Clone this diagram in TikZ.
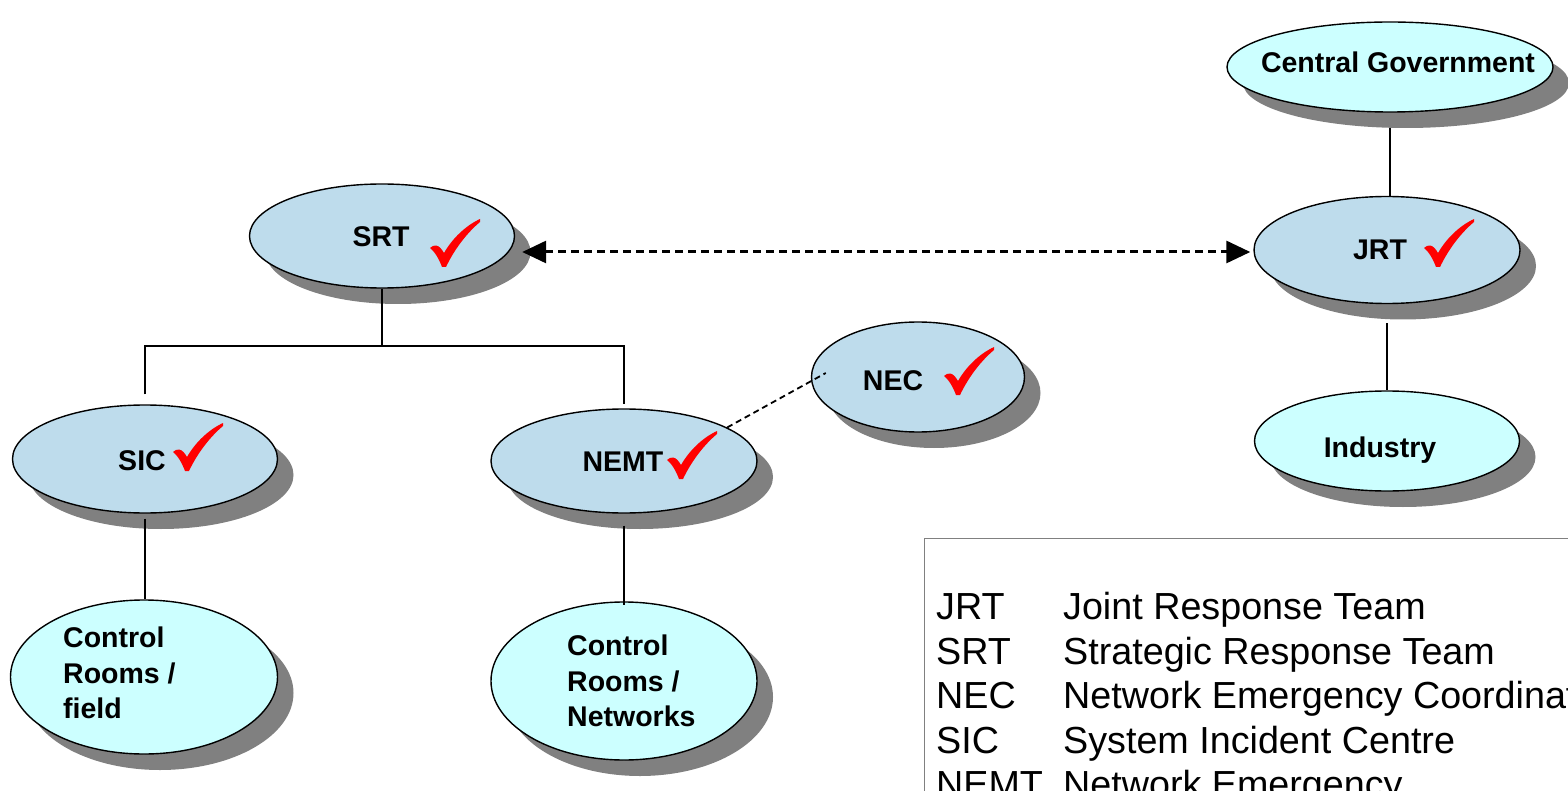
\documentclass[tikz,border=0pt]{standalone}
\usepackage{fontspec}
\setmainfont{Liberation Sans}
\usetikzlibrary{shapes.geometric,shadows,arrows.meta}
\definecolor{nodeblue}{RGB}{190,220,236}
\definecolor{nodecyan}{RGB}{204,255,255}
\definecolor{shadowgray}{RGB}{128,128,128}
\definecolor{legendgray}{RGB}{128,128,128}
\tikzset{
  chk/.pic={\fill[red] (0,29) .. controls (4,25) and (9,25) .. (14,34)
     .. controls (22,20) and (35,7) .. (50,0) -- (50,3)
     .. controls (38,13) and (25,29) .. (16,48) -- (12,48)
     .. controls (9,40) and (5,33) .. (0,29) -- cycle;}
}
\begin{document}
\begin{tikzpicture}[x=1pt,y=-1pt,
  ell/.style={ellipse, draw=black, line width=1.4pt, inner sep=0pt,
    drop shadow={shadow xshift=16pt, shadow yshift=-16pt, fill=shadowgray, opacity=1}},
  blueell/.style={ell, fill=nodeblue},
  cyanell/.style={ell, fill=nodecyan},
  lbl/.style={font=\fontsize{28.5}{35.5}\selectfont\bfseries, inner sep=0pt},
  legtxt/.style={font=\fontsize{37.7}{44.5}\selectfont, inner sep=0pt, anchor=base west},
  conn/.style={line width=1.4pt, black},
  dasharrow/.style={line width=3pt, dash pattern=on 8pt off 5pt,
    {Triangle[length=24pt,width=22pt]}-{Triangle[length=24pt,width=22pt]}},
  thindash/.style={line width=1.8pt, dash pattern=on 6pt off 4pt}
]
\useasboundingbox (0,0) rectangle (1568,791);
\clip (0,0) rectangle (1568,791);
\fill[white] (0,0) rectangle (1568,791);

% ellipses
\node[cyanell, minimum width=326pt, minimum height=90pt] (CG) at (1390,67) {};
\node[blueell, minimum width=266pt, minimum height=107pt] (JRT) at (1387,250) {};
\node[cyanell, minimum width=265pt, minimum height=100pt] (IND) at (1387,441) {};
\node[blueell, minimum width=265pt, minimum height=104pt] (SRT) at (382,236) {};
\node[blueell, minimum width=213pt, minimum height=110pt] (NEC) at (918,377) {};
\node[blueell, minimum width=265pt, minimum height=108pt] (SIC) at (145,459) {};
\node[blueell, minimum width=266pt, minimum height=104pt] (NEMT) at (624,461) {};
\node[cyanell, minimum width=267pt, minimum height=154pt] (CRF) at (144,677) {};
\node[cyanell, minimum width=266pt, minimum height=158pt] (CRN) at (624,681) {};

% labels
\node[lbl, anchor=base] (tCG) at (1398,73) {Central Government};
\node[lbl, anchor=base] (tJRT) at (1380,260) {JRT};
\node[lbl, anchor=base] (tIND) at (1380,457) {Industry};
\node[lbl, anchor=base] (tSRT) at (381,247) {SRT};
\node[lbl, anchor=base] (tNEC) at (893,390) {NEC};
\node[lbl, anchor=base] (tSIC) at (142,470) {SIC};
\node[lbl, anchor=base] (tNEMT) at (623,471) {NEMT};
\node[lbl, anchor=north west, align=left] (tCRF) at (63,627) {Control\\Rooms /\\field};
\node[lbl, anchor=north west, align=left] (tCRN) at (567,635) {Control\\Rooms /\\Networks};

% check marks
\pic at (430,219) {chk};
\pic at (1424,219) {chk};
\pic at (944,347) {chk};
\pic at (173,423) {chk};
\pic at (667,431) {chk};

% connectors
\coordinate (bus) at (0,346);
\draw[conn] (SRT.south) -- (SRT.south |- bus);
\draw[conn] ([yshift=10pt]SIC.north) -- (SIC.north |- bus) -- (NEMT.north |- bus) -- ([yshift=4pt]NEMT.north);
\draw[conn] ([yshift=-15pt]CG.south) -- (CG.south |- JRT.north);
\draw[conn] ([yshift=-19pt]JRT.south) -- (IND.north);
\draw[conn] ([yshift=-5pt]SIC.south) -- (SIC.south |- CRF.north);
\draw[conn] ([yshift=-12pt]NEMT.south) -- ([yshift=-4pt]CRN.north);
\draw[dasharrow] ([shift={(7pt,-16pt)}]SRT.east) -- ([shift={(-3pt,-2pt)}]JRT.west);
\draw[thindash] (NEMT.18) -- ([shift={(15pt,4pt)}]NEC.west);

% legend
\node[draw=legendgray, line width=1pt, anchor=north west, minimum width=700pt,
      minimum height=300pt, inner sep=0pt] (legend) at (924,538) {};
\node[legtxt] (l1) at (936,619) {\makebox[127pt][l]{JRT}Joint Response Team};
\node[legtxt] (l2) at (936,664) {\makebox[127pt][l]{SRT}Strategic Response Team};
\node[legtxt] (l3) at (936,708) {\makebox[127pt][l]{NEC}Network Emergency Coordinator};
\node[legtxt] (l4) at (936,753) {\makebox[127pt][l]{SIC}System Incident Centre};
\node[legtxt] (l5) at (936,797) {\makebox[127pt][l]{NEMT}Network Emergency};
\end{tikzpicture}
\end{document}
